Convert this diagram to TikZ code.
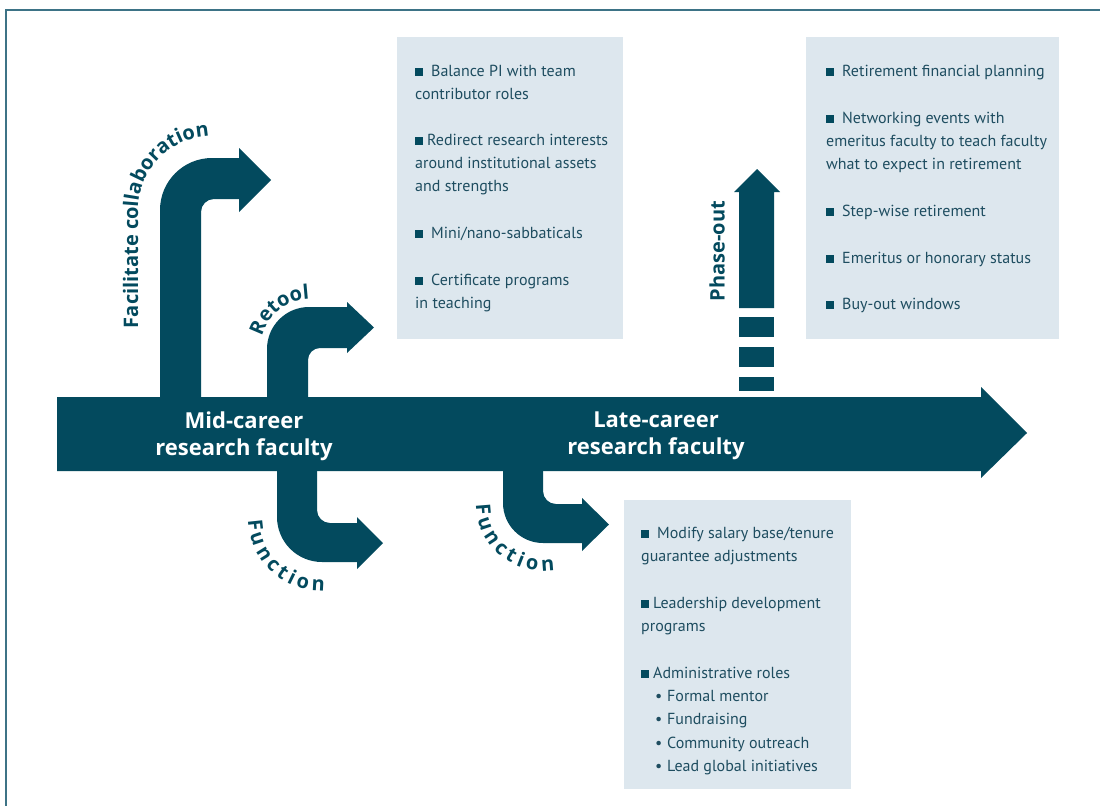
\documentclass[tikz,border=0pt]{standalone}
\usepackage{fontspec}
\usetikzlibrary{decorations.text}
\newfontfamily\lblfont{Open Sans}
\newfontfamily\bxfont{PT Sans}
\definecolor{arrowcol}{HTML}{034A5E}
\definecolor{boxfill}{HTML}{DDE7EE}
\definecolor{boxtext}{HTML}{1E4D60}
\definecolor{framecol}{HTML}{3D7386}
\newcommand{\sqb}{\textcolor{arrowcol}{\rule{8pt}{8pt}}}
\newcommand{\subb}{\makebox[12pt][l]{\textbullet}}
\begin{document}
\begin{tikzpicture}[x=1pt,y=-1pt,
  arr/.style={fill=arrowcol, draw=none},
  bx/.style={fill=boxfill, draw=none},
  ln/.style={anchor=base west, inner sep=0pt, text=boxtext, font=\bxfont\fontsize{16}{20}\selectfont},
  mainlbl/.style={text=white, font=\lblfont\bfseries\fontsize{22}{27}\selectfont, align=center, inner sep=0pt},
  sidelbl/.style={text=arrowcol, font=\lblfont\bfseries\fontsize{20}{24}\selectfont, inner sep=0pt}
]
\useasboundingbox (0,0) rectangle (1100,806);
\fill[white] (0,0) rectangle (1100,806);
% frame
\draw[framecol, line width=1.5pt] (1100,10) -- (6,10) -- (6,806);

% boxes
\fill[bx] (397,37) rectangle (623,339);
\fill[bx] (806,37) rectangle (1059,339);
\fill[bx] (624,500) rectangle (851,789);

% main arrow
\fill[arr] (57,397) -- (981,397) -- (981,387) -- (1027,433) -- (981,478) -- (981,471) -- (57,471) -- cycle;

% facilitate collaboration arrow
\fill[arr] (160,400) -- (160,210) arc[start angle=180, end angle=270, radius=52]
  -- (239,158) -- (239,148) -- (271,180) -- (239,212) -- (239,199) -- (214,199)
  arc[start angle=270, end angle=180, radius=13] -- (201,400) -- cycle;

% retool arrow
\fill[arr] (267,400) -- (267,349) arc[start angle=180, end angle=270, radius=42]
  -- (347,307) -- (347,302) -- (374,327.5) -- (347,353) -- (347,348) -- (320,348)
  arc[start angle=270, end angle=180, radius=12] -- (308,400) -- cycle;

% function arrow 1
\fill[arr] (277,468) -- (277,517) arc[start angle=180, end angle=90, radius=45]
  -- (357,562) -- (357,569) -- (383,543) -- (357,517) -- (357,523) -- (330,523)
  arc[start angle=90, end angle=180, radius=13] -- (317,468) -- cycle;

% function arrow 2
\fill[arr] (503,468) -- (503,503) arc[start angle=180, end angle=90, radius=40]
  -- (582,543) -- (582,551) -- (609,524.5) -- (582,498) -- (582,504) -- (556,504)
  arc[start angle=90, end angle=180, radius=13] -- (543,468) -- cycle;

% phase-out arrow
\fill[arr] (739,308) -- (739,192) -- (734,192) -- (757,169) -- (780,192) -- (774,192) -- (774,308) -- cycle;
\fill[arr] (739,317) rectangle (774,337);
\fill[arr] (739,347) rectangle (774,367);
\fill[arr] (739,377) rectangle (774,391);

% main labels
\node[mainlbl] (mid) at (244,436) {Mid-career\\research faculty};
\node[mainlbl] (late) at (656,436) {Late-career\\research faculty};
\node[sidelbl, rotate=90] (phase) at (717,251) {Phase-out};

% curved labels
\path[decorate, decoration={text along path, text color=arrowcol,
  text={|\lblfont\bfseries\fontsize{20}{24}\selectfont|Facilitate collaboration}}]
  (138,328) -- (138,210) arc[start angle=180, end angle=285, radius=74];
\path[decorate, decoration={text along path, text color=arrowcol, text align=center,
  text={|\lblfont\bfseries\fontsize{20}{24}\selectfont|Retool}}]
  (260,350) arc[start angle=180, end angle=284, radius=51];
\path[decorate, decoration={text along path, text color=arrowcol, text align={fit to path},
  text={|\lblfont\bfseries\fontsize{20}{24}\selectfont|Function}}]
  (248,520) arc[start angle=178, end angle=88, radius=74];
\path[decorate, decoration={text along path, text color=arrowcol, text align={fit to path},
  text={|\lblfont\bfseries\fontsize{20}{24}\selectfont|Function}}]
  (476,504) arc[start angle=180, end angle=80, radius=67];

% box 1
\node[ln] (b1a) at (415,76) {\sqb\hspace{8pt}Balance PI with team};
\node[ln] (b1b) at (415,99) {contributor roles};
\node[ln] (b1c) at (415,145) {\sqb\hspace{4pt}Redirect research interests};
\node[ln] (b1d) at (415,168) {around institutional assets};
\node[ln] (b1e) at (415,191) {and strengths};
\node[ln] (b1f) at (415,238) {\sqb\hspace{8pt}Mini/nano-sabbaticals};
\node[ln] (b1g) at (415,285) {\sqb\hspace{8pt}Certificate programs};
\node[ln] (b1h) at (415,308) {in teaching};

% box 2
\node[ln] (b2a) at (826,76) {\sqb\hspace{8pt}Retirement financial planning};
\node[ln] (b2b) at (826,123) {\sqb\hspace{8pt}Networking events with};
\node[ln] (b2c) at (826,146) {emeritus faculty to teach faculty};
\node[ln] (b2d) at (826,169) {what to expect in retirement};
\node[ln] (b2e) at (826,216) {\sqb\hspace{8pt}Step-wise retirement};
\node[ln] (b2f) at (826,263) {\sqb\hspace{8pt}Emeritus or honorary status};
\node[ln] (b2g) at (826,309) {\sqb\hspace{8pt}Buy-out windows};

% box 3
\node[ln] (b3a) at (641,538) {\sqb\hspace{8pt}Modify salary base/tenure};
\node[ln] (b3b) at (641,561) {guarantee adjustments};
\node[ln] (b3c) at (641,608) {\sqb\hspace{4pt}Leadership development};
\node[ln] (b3d) at (641,631) {programs};
\node[ln] (b3e) at (641,678) {\sqb\hspace{4pt}Administrative roles};
\node[ln] (b3f) at (655,701) {\subb Formal mentor};
\node[ln] (b3g) at (655,724) {\subb Fundraising};
\node[ln] (b3h) at (655,748) {\subb Community outreach};
\node[ln] (b3i) at (655,771) {\subb Lead global initiatives};
\end{tikzpicture}
\end{document}
